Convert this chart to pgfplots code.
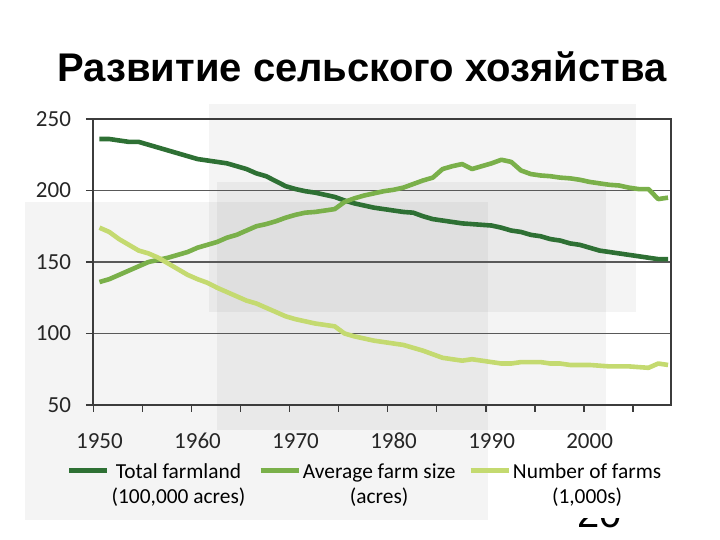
\documentclass[border=0pt]{standalone}
\usepackage{fontspec}
\setmainfont{Carlito}[Numbers=Lining]
\newfontfamily\arialfont{Liberation Sans}
\usepackage{pgfplots}
\pgfplotsset{compat=1.18}
\definecolor{tfDark}{RGB}{46,112,52}
\definecolor{afMid}{RGB}{122,176,74}
\definecolor{nfLight}{RGB}{196,218,112}
\definecolor{axGray}{RGB}{60,60,60}

\pgfplotstableread{
year farmland
1950 236
1951 236
1952 235
1953 234
1954 234
1955 232
1956 230
1957 228
1958 226
1959 224
1960 222
1961 221
1962 220
1963 219
1964 217
1965 215
1966 212
1967 210
1968 206.5
1969 203
1970 201
1971 199.5
1972 198.5
1973 197
1974 195.5
1975 193
1976 191
1977 189.5
1978 188
1979 187
1980 186
1981 185
1982 184.5
1983 182
1984 180
1985 179
1986 178
1987 177
1988 176.5
1989 176
1990 175.5
1991 174
1992 172
1993 171
1994 169
1995 168
1996 166
1997 165
1998 163
1999 162
2000 160
2001 158
2002 157
2003 156
2004 155
2005 154
2006 153
2007 152
2008 152
}\farmland

\pgfplotstableread{
year size
1950 136
1951 138
1952 141
1953 144
1954 147
1955 150
1956 151.5
1957 153
1958 155
1959 157
1960 160
1961 162
1962 164
1963 167
1964 169
1965 172
1966 175
1967 176.5
1968 178.5
1969 181
1970 183
1971 184.5
1972 185
1973 186
1974 187
1975 192
1976 194.5
1977 196.5
1978 198
1979 199.5
1980 200.5
1981 202
1982 204.5
1983 207
1984 209
1985 215
1986 217
1987 218.5
1988 215
1989 217
1990 219
1991 221.5
1992 220
1993 214
1994 211.5
1995 210.5
1996 210
1997 209
1998 208.5
1999 207.5
2000 206
2001 205
2002 204
2003 203.5
2004 202
2005 201
2006 201
2007 194
2008 195
}\farmsize

\pgfplotstableread{
year farms
1950 174
1951 171
1952 166
1953 162
1954 158
1955 156
1956 153
1957 149
1958 145
1959 141
1960 138
1961 135.5
1962 132
1963 129
1964 126
1965 123
1966 121
1967 118
1968 115
1969 112
1970 110
1971 108.5
1972 107
1973 106
1974 105
1975 100
1976 98
1977 96.5
1978 95
1979 94
1980 93
1981 92
1982 90
1983 88
1984 85.5
1985 83
1986 82
1987 81
1988 82
1989 81
1990 80
1991 79
1992 79
1993 80
1994 80
1995 80
1996 79
1997 79
1998 78
1999 78
2000 78
2001 77.5
2002 77
2003 77
2004 77
2005 76.5
2006 76
2007 79
2008 78
}\farms

\begin{document}
\begin{tikzpicture}
\useasboundingbox (0,0) rectangle (360pt,-270pt);
\clip (0,0) rectangle (360pt,-270pt);
% page number, half hidden behind the chart picture
\node[anchor=base, font=\arialfont\fontsize{20}{24}\selectfont]
  at (300pt,-264pt) {20};
\fill[white] (280pt,-216pt) rectangle (330pt,-259pt);
% slide backdrop: overlapping grey panels (1px = 0.5pt)
\fill[black, opacity=0.045] (104.5pt,-52pt) rectangle (318pt,-156pt);
\fill[black, opacity=0.045] (108.5pt,-91pt) rectangle (303pt,-215pt);
\fill[black, opacity=0.045] (12.5pt,-101pt) rectangle (244pt,-260pt);
% slide title
\node[anchor=base, font=\arialfont\bfseries\fontsize{20}{24}\selectfont]
  at (181pt,-41pt) {Развитие сельского хозяйства};

\begin{axis}[
  at={(46.5pt,-202.5pt)}, anchor=south west,
  scale only axis, width=289pt, height=143pt,
  xmin=1949.34, xmax=2008.3,
  ymin=50, ymax=250,
  axis line style={draw=axGray, line width=0.8pt},
  xtick={1950,1960,1970,1980,1990,2000},
  xticklabels={1950,1960,1970,1980,1990,2000},
  minor xtick={1949.4,1954.4,1959.4,1964.4,1969.4,1974.4,1979.4,1984.4,1989.4,1994.4,1999.4,2004.4},
  major x tick style={draw=none},
  ytick={50,100,150,200,250},
  xtick pos=bottom, ytick pos=left,
  tick align=outside,
  major tick length=3.5pt, minor tick length=3.5pt,
  tick style={draw=axGray, line width=0.8pt},
  tick label style={font=\fontsize{11.5}{13}\selectfont, text=black!85},
  xticklabel style={anchor=base, yshift=-18.5pt},
  yticklabel style={xshift=-4pt},
  /pgf/number format/assume math mode=true,
  ymajorgrids=true,
  grid style={draw=black!65, line width=0.75pt},
  every axis plot/.append style={line width=2.3pt, line join=round},
  legend columns=3,
  legend cell align=center,
  legend style={at={(-0.056,-0.176)}, anchor=north west, draw=none, fill=none,
    font=\fontsize{10.7}{12.6}\selectfont, cells={align=center},
    nodes={inner xsep=1pt},
    /tikz/every odd column/.append style={column sep=0pt},
    /tikz/every even column/.append style={column sep=5.5pt}},
  legend image code/.code={\draw[#1] (0pt,7.5pt) -- (19pt,7.5pt);},
]
\addplot[tfDark] table[x=year, y=farmland] {\farmland};
\addlegendentry{Total farmland\\(100,000 acres)}
\addplot[afMid] table[x=year, y=size] {\farmsize};
\addlegendentry{Average farm size\\(acres)}
\addplot[nfLight] table[x=year, y=farms] {\farms};
\addlegendentry{Number of farms\\(1,000s)}
\end{axis}
\end{tikzpicture}
\end{document}
